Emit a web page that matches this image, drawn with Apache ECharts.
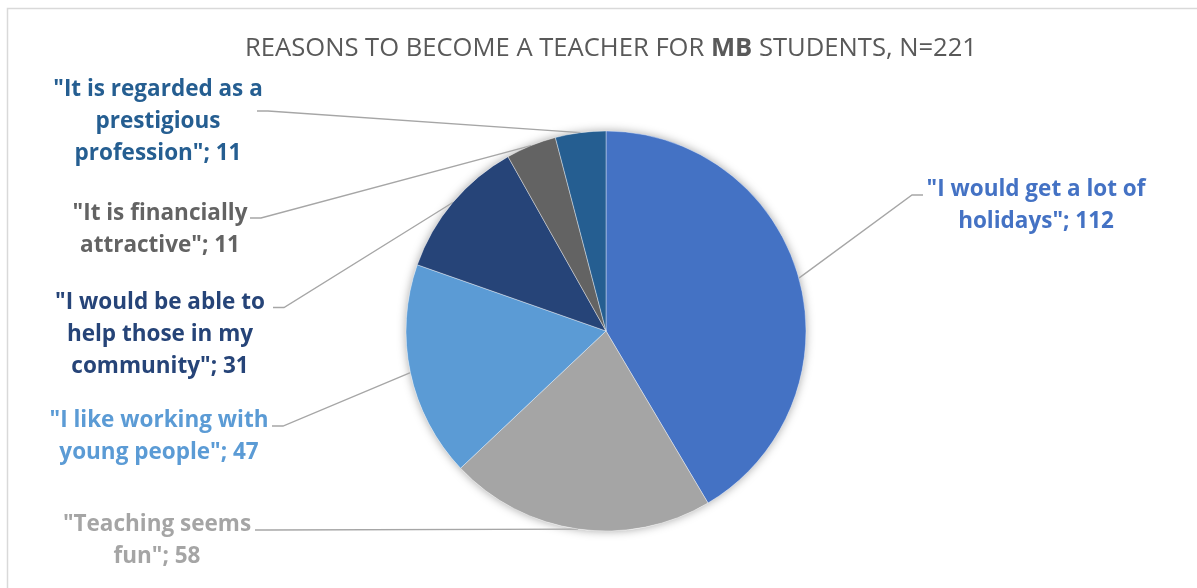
<!DOCTYPE html>
<html>
<head>
<meta charset="utf-8">
<script src="https://cdn.jsdelivr.net/npm/echarts@6/dist/echarts.min.js"></script>
<style>
  html, body { margin: 0; padding: 0; background: #fff; }
  #chart { width: 1197px; height: 588px; }
</style>
</head>
<body>
<div id="chart"></div>
<script>
// Reasons given, clockwise from 12 o'clock
const categories = [
  '"I would get a lot of\nholidays"',
  '"Teaching seems\nfun"',
  '"I like working with\nyoung people"',
  '"I would be able to\nhelp those in my\ncommunity"',
  '"It is financially\nattractive"',
  '"It is regarded as a\nprestigious\nprofession"'
];
const counts = [112, 58, 47, 31, 11, 11];
const sliceColors = ['#4472C4', '#A5A5A5', '#5B9BD5', '#264478', '#636363', '#255E91'];

// Label placement: [centre x, top y, leader end x, leader y, direction of the elbow]
const labelSpots = [
  [1036, 174, 923, 195, -1],
  [157, 509, 255, 530, 1],
  [159, 405, 272, 426, 1],
  [160, 287, 273, 307.5, 1],
  [160, 198, 250, 218, 1],
  [158, 74, 257, 111, 1]
];

const FONT = '"Open Sans", Lato, sans-serif';
const LINE_H = 32;
const ELBOW = 11;
const PIE_CENTER = [606, 331];

const chart = echarts.init(document.getElementById('chart'), null, { renderer: 'canvas' });

const total = counts.reduce((a, b) => a + b, 0);

chart.setOption({
  backgroundColor: '#fff',
  animation: false,
  graphic: [{
    type: 'rect',
    shape: { x: 7.5, y: 8.5, width: 1400, height: 800 },
    style: { fill: 'none', stroke: '#D9D9D9', lineWidth: 1.5 },
    silent: true,
    z: -10
  }],
  title: {
    left: PIE_CENTER[0],
    top: 31,
    textAlign: 'center',
    text: '{n|REASONS TO BECOME A TEACHER FOR }{b|MB}{n| STUDENTS, N=221}',
    textStyle: {
      rich: {
        n: { fontFamily: FONT, fontSize: 25.6, color: '#595959', fontWeight: 'normal' },
        b: { fontFamily: FONT, fontSize: 25.6, color: '#595959', fontWeight: 'bold' }
      }
    }
  },
  series: [
    {
      // soft drop shadow under the whole disc
      type: 'pie',
      silent: true,
      center: PIE_CENTER,
      radius: 200,
      label: { show: false },
      labelLine: { show: false },
      itemStyle: { color: '#fff', shadowBlur: 10, shadowColor: 'rgba(0,0,0,0.35)' },
      data: [{ value: total }],
      z: 1
    },
    {
      type: 'pie',
      center: PIE_CENTER,
      radius: 200,
      startAngle: 90,
      clockwise: true,
      avoidLabelOverlap: false,
      z: 2,
      itemStyle: { borderColor: 'rgba(255,255,255,0.55)', borderWidth: 0.7 },
      label: {
        show: true,
        position: 'outside',
        formatter: '{b}; {c}',
        fontFamily: FONT,
        fontWeight: 'bold',
        fontSize: 22.5,
        lineHeight: LINE_H,
        align: 'center'
      },
      labelLine: {
        show: true,
        lineStyle: { color: '#A6A6A6', width: 1.3 }
      },
      labelLayout: function (p) {
        const s = labelSpots[p.dataIndex];
        const start = p.labelLinePoints ? p.labelLinePoints[0] : PIE_CENTER;
        const end = [s[2], s[3]];
        const elbow = [s[2] + s[4] * ELBOW, s[3]];
        return {
          x: s[0],
          y: s[1],
          align: 'center',
          verticalAlign: 'top',
          labelLinePoints: [start, elbow, end]
        };
      },
      data: categories.map((name, i) => ({
        name: name,
        value: counts[i],
        itemStyle: { color: sliceColors[i] },
        label: { color: sliceColors[i] }
      }))
    }
  ]
});
</script>
</body>
</html>
